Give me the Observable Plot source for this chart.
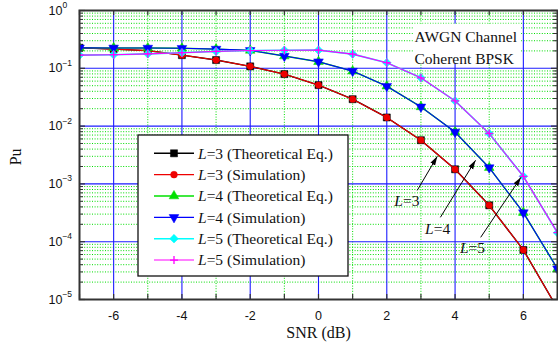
<!DOCTYPE html>
<html><head><meta charset="utf-8">
<script src="https://cdn.jsdelivr.net/npm/d3@7"></script>
<script src="https://cdn.jsdelivr.net/npm/@observablehq/plot@0.6"></script>
<style>
body{margin:0;background:#fff;}
#chart{width:558px;height:352px;}
</style></head><body><div id="chart"></div>
<script>
// ---- data ----
const snr = [-7,-6,-5,-4,-3,-2,-1,0,1,2,3,4,5,6,7];
const L3_theory = [0.227,0.215,0.202,0.169,0.139,0.108,0.0794,0.0512,0.0292,0.0141,0.0057,0.00179,0.000426,0.000072,0.000007];
const L3_sim    = [0.227,0.215,0.202,0.169,0.139,0.108,0.0794,0.0512,0.0292,0.0141,0.0057,0.00179,0.000426,0.000072,0.000007];
const L4_theory = [0.226,0.225,0.224,0.222,0.215,0.204,0.163,0.130,0.0894,0.049,0.0215,0.0079,0.00191,0.000318,0.000034];
const L4_sim    = [0.226,0.225,0.224,0.222,0.215,0.204,0.163,0.130,0.0894,0.049,0.0215,0.0079,0.00191,0.000318,0.000034];
const L5_theory = [0.169,0.172,0.178,0.186,0.196,0.203,0.205,0.206,0.176,0.125,0.0685,0.0273,0.00744,0.00135,0.000143];
const L5_sim    = [0.169,0.172,0.178,0.186,0.196,0.203,0.205,0.206,0.176,0.125,0.0685,0.0273,0.00744,0.00135,0.000143];

const xTickLabels = [-6,-4,-2,0,2,4,6];
const xMinorGrid = [-5,-3,-1,1,3,5];
const xAllTicks = [-7,-6,-5,-4,-3,-2,-1,0,1,2,3,4,5,6,7];
const yDecades = [1,1e-1,1e-2,1e-3,1e-4,1e-5];
const yInnerDecades = [1e-1,1e-2,1e-3,1e-4];
const yMinor = [];
for (const dec of [1e-5,1e-4,1e-3,1e-2,1e-1]) for (const m of [2,3,4,5,6,7,8,9]) yMinor.push(+(m*dec).toPrecision(3));

const legendLabels = [
  {L:"3", kind:"(Theoretical Eq.)"},
  {L:"3", kind:"(Simulation)"},
  {L:"4", kind:"(Theoretical Eq.)"},
  {L:"4", kind:"(Simulation)"},
  {L:"5", kind:"(Theoretical Eq.)"},
  {L:"5", kind:"(Simulation)"}
];
const seriesValues = [L3_theory, L3_sim, L4_theory, L4_sim, L5_theory, L5_sim];
const seriesStyle = [
  {color:"#000000", symbol:"square", rotate:0, r:4, lw:1.4},
  {color:"#ee0000", symbol:"circle", rotate:0, r:3.4, lw:1.1},
  {color:"#00e000", symbol:"triangle", rotate:0, r:3.6, lw:1.4},
  {color:"#0000ff", symbol:"triangle", rotate:180, r:3.6, lw:1.1},
  {color:"#00ffff", symbol:"diamond2", rotate:0, r:3.9, lw:1.6},
  {color:"#ff00ff", symbol:"plus", rotate:0, r:2.7, lw:1.1}
];
const series = seriesValues.map((vals, i) => snr.map((x, j) => ({x, y: vals[j], s: i})));

const noteLines = "AWGN Channel\nCoherent BPSK";
const noteBox = [{x1: 2.78, x2: 5.95, y1: 0.118, y2: 0.58}];
const noteAt = [{x: 2.81, y: 0.524}];
const yLabelAt = [{label: "Pu", y: 0.0021}];
const arrowNotes = [
  {label:"L=3", tx:2.59, ty:5.0e-4, x1:2.89, y1:7.7e-4, x2:3.48, y2:3.0e-3},
  {label:"L=4", tx:3.49, ty:1.63e-4, x1:3.57, y1:2.64e-4, x2:4.60, y2:2.56e-3},
  {label:"L=5", tx:4.51, ty:7.7e-5, x1:4.75, y1:1.19e-4, x2:5.93, y2:1.3e-3}
];

const W = 558, H = 352, mL = 79, mR = 1, mT = 10, mB = 53;
const pw = W - mL - mR, ph = H - mT - mB;
const serif = "'Liberation Serif','Times New Roman',serif";

const marks = [
  Plot.ruleX(xMinorGrid, {x: d => d, stroke: "#00dd00", strokeWidth: 1, strokeDasharray: "1,1.6"}),
  Plot.ruleY(yMinor, {y: d => d, stroke: "#00dd00", strokeWidth: 1, strokeDasharray: "1,1.6"}),
  Plot.ruleX(xTickLabels, {x: d => d, stroke: "#1c1cff", strokeWidth: 1.1}),
  Plot.ruleY(yInnerDecades, {y: d => d, stroke: "#1c1cff", strokeWidth: 1.1}),
  Plot.rect(noteBox, {x1: "x1", x2: "x2", y1: "y1", y2: "y2", fill: "white"}),
  Plot.text(noteAt, {x: "x", y: "y", text: () => noteLines, textAnchor: "start", lineAnchor: "top", fontFamily: serif, fontSize: 15.5, lineHeight: 1.39, fill: "#111"})
];
series.forEach((data, i) => {
  const st = seriesStyle[i];
  marks.push(Plot.line(data, {x: "x", y: "y", stroke: st.color, strokeWidth: st.lw, clip: true}));
  marks.push(Plot.dot(data, {x: "x", y: "y", symbol: st.symbol, r: st.r, rotate: st.rotate, clip: true,
    fill: st.symbol === "plus" ? "none" : st.color,
    stroke: st.symbol === "plus" ? st.color : (i === 1 ? "none" : st.color), strokeWidth: st.symbol === "plus" ? 1.3 : 0.5}));
});
marks.push(
  Plot.tickX(xAllTicks, {x: d => d, stroke: "#333", strokeWidth: 1.2, insetTop: ph - 5}),
  Plot.tickX(xAllTicks, {x: d => d, stroke: "#333", strokeWidth: 1.2, insetBottom: ph - 5}),
  Plot.tickY(yDecades, {y: d => d, stroke: "#333", strokeWidth: 1.2, insetRight: pw - 6}),
  Plot.tickY(yMinor, {y: d => d, stroke: "#333", strokeWidth: 1, insetRight: pw - 4}),
  Plot.tickY(yDecades, {y: d => d, stroke: "#333", strokeWidth: 1.2, insetLeft: pw - 6}),
  Plot.tickY(yMinor, {y: d => d, stroke: "#333", strokeWidth: 1, insetLeft: pw - 4}),
  Plot.frame({stroke: "#333", strokeWidth: 2}),
  Plot.axisX(xTickLabels, {tickSize: 0, tickPadding: 12, fontSize: 12.5, label: null, fill: "#111", tickFormat: d => String(d)}),
  Plot.axisY(yDecades, {anchor: "left", tickSize: 0, tickPadding: 31, textAnchor: "start", fontSize: 12.5, label: null, className: "yax", fill: "#111",
    tickFormat: d => String(Math.round(Math.log10(d)))}),
  Plot.text(["SNR (dB)"], {frameAnchor: "bottom", dy: 38, fontFamily: serif, fontSize: 16, fill: "#111"}),
  Plot.text(yLabelAt, {frameAnchor: "left", y: "y", text: "label", dx: -64, rotate: -90, fontFamily: serif, fontSize: 16, fill: "#111"}),
  Plot.link(arrowNotes, {x1: "x1", y1: "y1", x2: "x2", y2: "y2", stroke: "#000", strokeWidth: 1, className: "annarrow"}),
  Plot.text(arrowNotes, {x: "tx", y: "ty", text: "label", fontFamily: serif, fontSize: 15.5, className: "annlabel", fill: "#111"})
);

const svg = Plot.plot({
  width: W, height: H, marginLeft: mL, marginRight: mR, marginTop: mT, marginBottom: mB,
  style: {fontFamily: "'Liberation Sans',Arial,sans-serif", background: "white"},
  x: {domain: [-7, 7]},
  y: {type: "log", domain: [1e-5, 1]},
  marks
});
document.getElementById("chart").appendChild(svg);

const root = d3.select(svg);
const defs = root.append("defs");
defs.append("marker").attr("id", "ah").attr("viewBox", "0 0 10 10").attr("refX", 10).attr("refY", 5)
  .attr("markerWidth", 9).attr("markerHeight", 9).attr("markerUnits", "userSpaceOnUse").attr("orient", "auto")
  .append("path").attr("d", "M0,2 L10,5 L0,8 Z").attr("fill", "#000");
root.selectAll("g.annarrow path").attr("marker-end", "url(#ah)");

function italicL(textEl, rest) {
  const t = d3.select(textEl);
  t.text(null);
  t.append("tspan").attr("font-style", "italic").text("L");
  t.append("tspan").text(rest);
}
root.selectAll("g.annlabel text").each(function() {
  const s = this.textContent;
  italicL(this, s.slice(1));
});
// superscript exponents on y tick labels
root.selectAll("g.yax text").each(function() {
  const e = this.textContent;
  const t = d3.select(this);
  t.text("10");
  t.append("tspan").attr("dy", -6.5).attr("font-size", 8.5).text(e.replace("-", "\u2212"));
});

// legend inside the plot
const lg = root.append("g").attr("transform", "translate(138,135)");
lg.append("rect").attr("x", 0).attr("y", 0).attr("width", 210).attr("height", 141)
  .attr("fill", "white").attr("stroke", "#111").attr("stroke-width", 1.3);
const symMap = {square: d3.symbolSquare, circle: d3.symbolCircle, triangle: d3.symbolTriangle, diamond2: d3.symbolDiamond2, plus: d3.symbolPlus};
legendLabels.forEach((item, i) => {
  const st = seriesStyle[i];
  const y = 18.3 + i * 21.35;
  const row = lg.append("g").attr("transform", `translate(0,${y})`);
  row.append("line").attr("x1", 16).attr("x2", 56).attr("y1", 0).attr("y2", 0)
    .attr("stroke", st.color).attr("stroke-width", st.lw);
  const size = Math.PI * st.r * st.r;
  row.append("path").attr("d", d3.symbol(symMap[st.symbol], size)())
    .attr("transform", `translate(36,0) rotate(${st.rotate})`)
    .attr("fill", st.symbol === "plus" ? "none" : st.color)
    .attr("stroke", st.color).attr("stroke-width", st.symbol === "plus" ? 1.3 : 0.5);
  const tx = row.append("text").attr("x", 60).attr("y", 0).attr("dy", "0.35em")
    .attr("text-anchor", "start")
    .attr("font-family", serif).attr("font-size", 15.5).attr("fill", "#111");
  tx.append("tspan").attr("font-style", "italic").text("L");
  tx.append("tspan").text("=" + item.L + " " + item.kind);
});
</script></body></html>
